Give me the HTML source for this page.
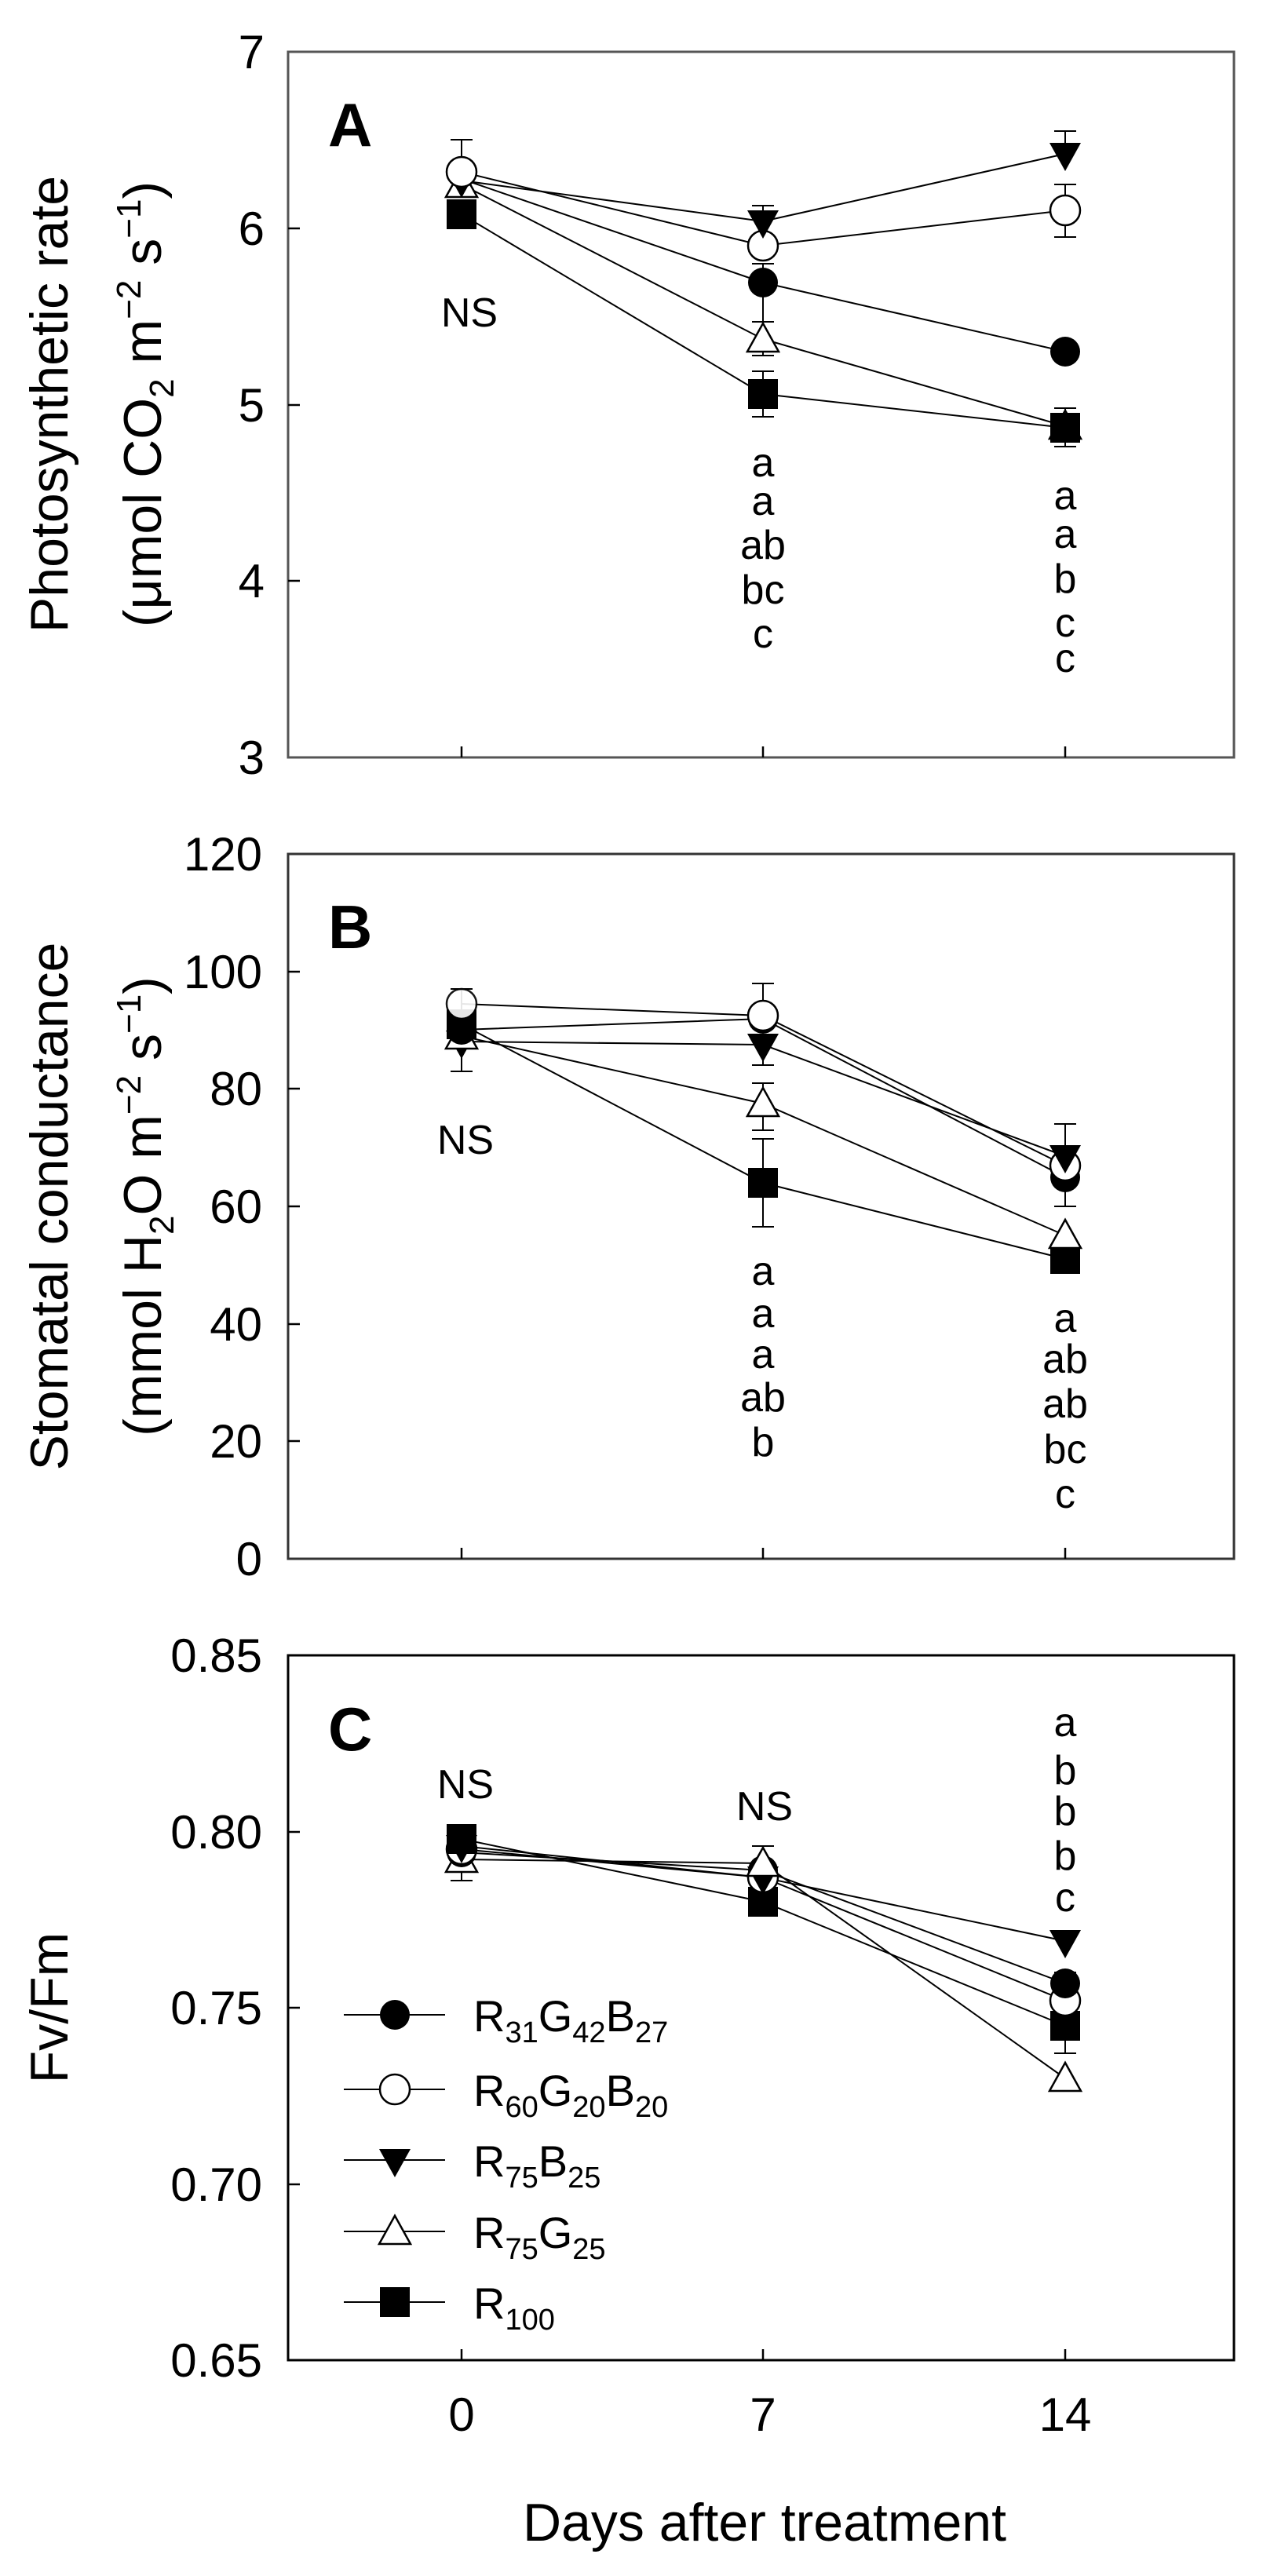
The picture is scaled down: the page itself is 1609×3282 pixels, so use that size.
<!DOCTYPE html>
<html><head><meta charset="utf-8"><style>
html,body{margin:0;padding:0;background:#fff}
svg{display:block}
text{font-family:"Liberation Sans",Arial,sans-serif;fill:#000}
</style></head><body>
<svg width="1609" height="3282" viewBox="0 0 1609 3282" xmlns="http://www.w3.org/2000/svg">
<defs>
<g id="fc"><circle r="19" fill="#000"/></g>
<g id="oc"><circle r="19" fill="#fff" stroke="#000" stroke-width="2.5"/></g>
<g id="it"><path d="M-20,-14 L20,-14 L0,22 Z" fill="#000"/></g>
<g id="ot"><path d="M-20,16 L20,16 L0,-20 Z" fill="#fff" stroke="#000" stroke-width="2.5"/></g>
<g id="sq"><rect x="-19" y="-19" width="38" height="38" fill="#000"/></g>
</defs>

<!-- ===== Panel A ===== -->
<g stroke="#000" stroke-width="3" fill="none">
<rect x="367" y="66" width="1205" height="899" stroke="#555"/>
</g>
<g stroke="#000" stroke-width="2.5">
<line x1="367" y1="291" x2="382" y2="291"/><line x1="367" y1="516" x2="382" y2="516"/><line x1="367" y1="740" x2="382" y2="740"/>
<line x1="588" y1="965" x2="588" y2="951"/><line x1="972" y1="965" x2="972" y2="951"/><line x1="1357" y1="965" x2="1357" y2="951"/>
</g>
<g font-size="60" text-anchor="end">
<text x="337" y="87">7</text><text x="337" y="312">6</text><text x="337" y="537">5</text><text x="337" y="761">4</text><text x="337" y="986">3</text>
</g>
<text x="418" y="186" font-size="78" font-weight="bold">A</text>
<text x="598" y="416" font-size="52" text-anchor="middle">NS</text>
<g font-size="52" text-anchor="middle">
<text x="972" y="607">a</text><text x="972" y="656">a</text><text x="972" y="712">ab</text><text x="972" y="769">bc</text><text x="972" y="825">c</text>
<text x="1357" y="649">a</text><text x="1357" y="698">a</text><text x="1357" y="755">b</text><text x="1357" y="811">c</text><text x="1357" y="856">c</text>
</g>
<g transform="translate(86,515) rotate(-90)" font-size="68" text-anchor="middle"><text x="0" y="0">Photosynthetic rate</text></g>
<g transform="translate(205,515) rotate(-90)" font-size="68" text-anchor="middle"><text x="0" y="0">(μmol CO<tspan font-size="44" dy="16">2</tspan><tspan dy="-16"> m</tspan><tspan font-size="44" dy="-26">−2</tspan><tspan dy="26"> s</tspan><tspan font-size="44" dy="-26">−1</tspan><tspan dy="26">)</tspan></text></g>
<g stroke="#000" stroke-width="2" fill="none">
<polyline points="588,228 972,360 1357,448"/>
<polyline points="588,219 972,313 1357,268"/>
<polyline points="588,230 972,282 1357,196"/>
<polyline points="588,235 972,432 1357,543"/>
<polyline points="588,273 972,502 1357,545"/>
<path d="M588,178V235M574,178H602"/>
<path d="M972,262V282M958,262H986"/>
<path d="M972,336V410M958,336H986M958,410H986"/>
<path d="M972,410V453M958,453H986"/>
<path d="M972,473V531M958,473H986M958,531H986"/>
<path d="M1357,167V196M1343,167H1371"/>
<path d="M1357,235V302M1343,235H1371M1343,302H1371"/>
<path d="M1357,520V569M1343,520H1371M1343,569H1371"/>
</g>
<use href="#sq" x="588" y="273"/><use href="#ot" x="588" y="235"/><use href="#it" x="588" y="230"/><use href="#oc" x="588" y="219"/><use href="#fc" x="588" y="228" opacity="0"/>
<use href="#sq" x="972" y="502"/><use href="#ot" x="972" y="432"/><use href="#fc" x="972" y="360"/><use href="#oc" x="972" y="313"/><use href="#it" x="972" y="282"/>
<use href="#ot" x="1357" y="543"/><use href="#sq" x="1357" y="545"/><use href="#fc" x="1357" y="448"/><use href="#oc" x="1357" y="268"/><use href="#it" x="1357" y="196"/>

<!-- ===== Panel B ===== -->
<rect x="367" y="1088" width="1205" height="898" stroke="#333" stroke-width="3" fill="none"/>
<g stroke="#000" stroke-width="2.5">
<line x1="367" y1="1238" x2="382" y2="1238"/><line x1="367" y1="1387" x2="382" y2="1387"/><line x1="367" y1="1537" x2="382" y2="1537"/><line x1="367" y1="1687" x2="382" y2="1687"/><line x1="367" y1="1836" x2="382" y2="1836"/>
<line x1="588" y1="1986" x2="588" y2="1972"/><line x1="972" y1="1986" x2="972" y2="1972"/><line x1="1357" y1="1986" x2="1357" y2="1972"/>
</g>
<g font-size="60" text-anchor="end">
<text x="334" y="1109">120</text><text x="334" y="1259">100</text><text x="334" y="1408">80</text><text x="334" y="1558">60</text><text x="334" y="1708">40</text><text x="334" y="1857">20</text><text x="334" y="2007">0</text>
</g>
<text x="418" y="1208" font-size="78" font-weight="bold">B</text>
<text x="593" y="1470" font-size="52" text-anchor="middle">NS</text>
<g font-size="52" text-anchor="middle">
<text x="972" y="1637">a</text><text x="972" y="1691">a</text><text x="972" y="1743">a</text><text x="972" y="1798">ab</text><text x="972" y="1855">b</text>
<text x="1357" y="1697">a</text><text x="1357" y="1749">ab</text><text x="1357" y="1806">ab</text><text x="1357" y="1864">bc</text><text x="1357" y="1921">c</text>
</g>
<g transform="translate(86,1537) rotate(-90)" font-size="68" text-anchor="middle"><text x="0" y="0">Stomatal conductance</text></g>
<g transform="translate(205,1537) rotate(-90)" font-size="68" text-anchor="middle"><text x="0" y="0">(mmol H<tspan font-size="44" dy="16">2</tspan><tspan dy="-16">O m</tspan><tspan font-size="44" dy="-26">−2</tspan><tspan dy="26"> s</tspan><tspan font-size="44" dy="-26">−1</tspan><tspan dy="26">)</tspan></text></g>
<g stroke="#000" stroke-width="2" fill="none">
<polyline points="588,1312 972,1298 1357,1500"/>
<polyline points="588,1279 972,1294 1357,1485"/>
<polyline points="588,1327 972,1331 1357,1473"/>
<polyline points="588,1320 972,1406 1357,1574"/>
<polyline points="588,1305 972,1507 1357,1604"/>
<path d="M588,1260V1365M574,1260H602M574,1365H602"/>
<path d="M972,1253V1294M958,1253H986"/>
<path d="M972,1331V1357M958,1357H986"/>
<path d="M972,1380V1440M958,1380H986M958,1440H986"/>
<path d="M972,1451V1563M958,1451H986M958,1563H986"/>
<path d="M1357,1432V1537M1343,1432H1371M1343,1537H1371"/>
</g>
<use href="#it" x="588" y="1327"/><use href="#ot" x="588" y="1320"/><use href="#fc" x="588" y="1312"/><use href="#sq" x="588" y="1305"/><use href="#oc" x="588" y="1279" opacity="0.9"/>
<use href="#sq" x="972" y="1507"/><use href="#ot" x="972" y="1406"/><use href="#it" x="972" y="1331"/><use href="#fc" x="972" y="1298"/><use href="#oc" x="972" y="1294"/>
<use href="#sq" x="1357" y="1604"/><use href="#ot" x="1357" y="1574"/><use href="#fc" x="1357" y="1500"/><use href="#oc" x="1357" y="1485"/><use href="#it" x="1357" y="1473"/>

<!-- ===== Panel C ===== -->
<rect x="367" y="2109" width="1205" height="898" stroke="#000" stroke-width="3" fill="none"/>
<g stroke="#000" stroke-width="2.5">
<line x1="367" y1="2334" x2="382" y2="2334"/><line x1="367" y1="2558" x2="382" y2="2558"/><line x1="367" y1="2783" x2="382" y2="2783"/>
<line x1="588" y1="3007" x2="588" y2="2993"/><line x1="972" y1="3007" x2="972" y2="2993"/><line x1="1357" y1="3007" x2="1357" y2="2993"/>
</g>
<g font-size="60" text-anchor="end">
<text x="334" y="2130">0.85</text><text x="334" y="2355">0.80</text><text x="334" y="2579">0.75</text><text x="334" y="2804">0.70</text><text x="334" y="3028">0.65</text>
</g>
<text x="418" y="2230" font-size="78" font-weight="bold">C</text>
<text x="593" y="2291" font-size="52" text-anchor="middle">NS</text>
<text x="974" y="2319" font-size="52" text-anchor="middle">NS</text>
<g font-size="52" text-anchor="middle">
<text x="1357" y="2212">a</text><text x="1357" y="2273">b</text><text x="1357" y="2325">b</text><text x="1357" y="2382">b</text><text x="1357" y="2435">c</text>
</g>
<g transform="translate(86,2558) rotate(-90)" font-size="68" text-anchor="middle"><text x="0" y="0">Fv/Fm</text></g>
<g stroke="#000" stroke-width="2" fill="none">
<polyline points="588,2360 972,2383 1357,2527"/>
<polyline points="588,2356 972,2392 1357,2549"/>
<polyline points="588,2352 972,2392 1357,2473"/>
<polyline points="588,2369 972,2374 1357,2648"/>
<polyline points="588,2343 972,2423 1357,2581"/>
<path d="M588,2369V2396M574,2396H602"/>
<path d="M972,2352V2374M958,2352H986"/>
<path d="M1357,2513V2585M1343,2513H1371M1343,2585H1371"/>
<path d="M1357,2581V2616M1343,2616H1371"/>
</g>
<use href="#ot" x="588" y="2369"/><use href="#fc" x="588" y="2360"/><use href="#oc" x="588" y="2356"/><use href="#it" x="588" y="2352"/><use href="#sq" x="588" y="2343"/>
<use href="#sq" x="972" y="2423"/><use href="#fc" x="972" y="2383"/><use href="#oc" x="972" y="2392"/><use href="#it" x="972" y="2392"/><use href="#ot" x="972" y="2374"/>
<use href="#ot" x="1357" y="2648"/><use href="#sq" x="1357" y="2581"/><use href="#oc" x="1357" y="2549"/><use href="#fc" x="1357" y="2527"/><use href="#it" x="1357" y="2473"/>

<!-- Legend -->
<g stroke="#000" stroke-width="2">
<line x1="438" y1="2567" x2="567" y2="2567"/><line x1="438" y1="2662" x2="567" y2="2662"/><line x1="438" y1="2752" x2="567" y2="2752"/><line x1="438" y1="2843" x2="567" y2="2843"/><line x1="438" y1="2933" x2="567" y2="2933"/>
</g>
<use href="#fc" x="503" y="2567"/><use href="#oc" x="503" y="2662"/><use href="#it" x="503" y="2752"/><use href="#ot" x="503" y="2843"/><use href="#sq" x="503" y="2933"/>
<g font-size="56">
<text x="603" y="2588">R<tspan font-size="38" dy="14">31</tspan><tspan dy="-14">G</tspan><tspan font-size="38" dy="14">42</tspan><tspan dy="-14">B</tspan><tspan font-size="38" dy="14">27</tspan></text>
<text x="603" y="2683">R<tspan font-size="38" dy="14">60</tspan><tspan dy="-14">G</tspan><tspan font-size="38" dy="14">20</tspan><tspan dy="-14">B</tspan><tspan font-size="38" dy="14">20</tspan></text>
<text x="603" y="2773">R<tspan font-size="38" dy="14">75</tspan><tspan dy="-14">B</tspan><tspan font-size="38" dy="14">25</tspan></text>
<text x="603" y="2864">R<tspan font-size="38" dy="14">75</tspan><tspan dy="-14">G</tspan><tspan font-size="38" dy="14">25</tspan></text>
<text x="603" y="2954">R<tspan font-size="38" dy="14">100</tspan></text>
</g>

<!-- X axis labels -->
<g font-size="60" text-anchor="middle">
<text x="588" y="3097">0</text><text x="972" y="3097">7</text><text x="1357" y="3097">14</text>
</g>
<text x="974" y="3237" font-size="68" text-anchor="middle">Days after treatment</text>
</svg>
</body></html>
